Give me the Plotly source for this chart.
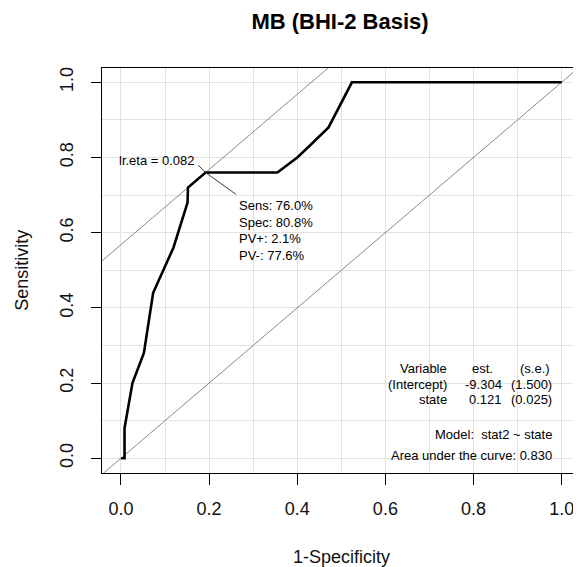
import plotly.graph_objects as go

# ---------------- data ----------------
title_text = "MB (BHI-2 Basis)"
x_label = "1-Specificity"
y_label = "Sensitivity"

roc_fpr = [0, 0.008, 0.008, 0.026, 0.052, 0.073, 0.119, 0.151, 0.152, 0.192,
           0.355, 0.400, 0.427, 0.471, 0.524, 1.0]
roc_tpr = [0, 0, 0.08, 0.20, 0.28, 0.44, 0.56, 0.68, 0.72, 0.76,
           0.76, 0.80, 0.83, 0.88, 1.0, 1.0]

lr_eta = 0.082
sens = 76.0
spec = 80.8
pv_pos = 2.1
pv_neg = 77.6

coef_header = ["Variable", "est.", "(s.e.)"]
coef_names = ["(Intercept)", "state"]
coef_est = [-9.304, 0.121]
coef_se = [1.500, 0.025]
model_formula = "stat2 ~ state"
auc = 0.830

tick_vals = [0.0, 0.2, 0.4, 0.6, 0.8, 1.0]
tick_text = ["0.0", "0.2", "0.4", "0.6", "0.8", "1.0"]

# ---------------- layout geometry ----------------
OFF = 8                      # page body margin
W, H = 581 - OFF, 567 - OFF
ML, MR, MT, MB = 102 - OFF, 3, 68 - OFF, 94
PW = W - ML - MR
PH = H - MT - MB
FONT = "Liberation Sans, Arial, sans-serif"


def px_x(px):
    return (px - OFF - ML) / PW


def px_y(py):
    return (MT + PH - (py - OFF)) / PH


opt_x = 1 - spec / 100
opt_y = sens / 100
tangent_icpt = opt_y - opt_x

fig = go.Figure()

line_x = [-0.2, 1.2]
fig.add_trace(go.Scatter(x=line_x, y=line_x, mode="lines",
                         line=dict(color="#7a7a7a", width=0.9),
                         hoverinfo="skip", showlegend=False))
fig.add_trace(go.Scatter(x=line_x, y=[v + tangent_icpt for v in line_x], mode="lines",
                         line=dict(color="#7a7a7a", width=0.9),
                         hoverinfo="skip", showlegend=False))
fig.add_trace(go.Scatter(x=roc_fpr, y=roc_tpr, mode="lines",
                         line=dict(color="black", width=2.6),
                         showlegend=False))

ann = []
# leader lines
ann.append(dict(x=opt_x, y=opt_y, xref="x", yref="y", text="", showarrow=True,
                arrowhead=0, arrowwidth=0.9, arrowcolor="#222", ax=-9, ay=-9))
ann.append(dict(x=opt_x, y=opt_y, xref="x", yref="y", text="", showarrow=True,
                arrowhead=0, arrowwidth=0.9, arrowcolor="#222", ax=32, ay=23))
ann.append(dict(x=opt_x, y=opt_y, xref="x", yref="y",
                text=f"lr.eta = {lr_eta:.3f}", showarrow=False,
                xanchor="right", yanchor="middle", xshift=-9, yshift=12,
                font=dict(family=FONT, size=13, color="black")))
info_lines = [f"Sens: {sens:.1f}%", f"Spec: {spec:.1f}%",
              f"PV+: {pv_pos:.1f}%", f"PV-: {pv_neg:.1f}%"]
for i, t in enumerate(info_lines):
    ann.append(dict(x=opt_x, y=opt_y, xref="x", yref="y", text=t, showarrow=False,
                    xanchor="left", yanchor="middle", xshift=31,
                    yshift=-33.4 - 16.4 * i,
                    font=dict(family=FONT, size=13, color="black")))

# coefficient table
col_right = [449, 503.5, 553.5]
head_right = [449, 495, 552]
row_y = [368.5, 384.3, 399.5]
for j, h in enumerate(coef_header):
    ann.append(dict(x=px_x(head_right[j]), y=px_y(row_y[0]), xref="paper", yref="paper",
                    text=h, showarrow=False, xanchor="right", yanchor="middle",
                    font=dict(family=FONT, size=13, color="black")))
for i, name in enumerate(coef_names):
    cells = [name, f"{coef_est[i]:.3f}", f"({coef_se[i]:.3f})"]
    for j, c in enumerate(cells):
        ann.append(dict(x=px_x(col_right[j]), y=px_y(row_y[i + 1]), xref="paper", yref="paper",
                        text=c, showarrow=False, xanchor="right", yanchor="middle",
                        font=dict(family=FONT, size=13, color="black")))
ann.append(dict(x=px_x(554), y=px_y(434), xref="paper", yref="paper",
                text=f"Model:  {model_formula}", showarrow=False,
                xanchor="right", yanchor="middle",
                font=dict(family=FONT, size=13, color="black")))
ann.append(dict(x=px_x(554), y=px_y(455), xref="paper", yref="paper",
                text=f"Area under the curve: {auc:.3f}", showarrow=False,
                xanchor="right", yanchor="middle",
                font=dict(family=FONT, size=13, color="black")))

# axis titles
ann.append(dict(x=px_x(341), y=px_y(556.5), xref="paper", yref="paper",
                text=x_label, showarrow=False, xanchor="center", yanchor="middle",
                font=dict(family=FONT, size=18, color="#111")))
ann.append(dict(x=px_x(21.7), y=px_y(270), xref="paper", yref="paper",
                text=y_label, showarrow=False, xanchor="center", yanchor="middle",
                textangle=-90, font=dict(family=FONT, size=18, color="#111")))

grid_col = "#e2e2e2"
axis_common = dict(
    tickmode="array", tickvals=tick_vals, ticktext=tick_text,
    showgrid=True, gridcolor=grid_col, gridwidth=1,
    minor=dict(dtick=0.1, tick0=0, showgrid=True, gridcolor=grid_col, gridwidth=1, ticks=""),
    zeroline=False, showline=True, mirror=True, linecolor="black", linewidth=1,
    ticks="outside", tickcolor="black", tickwidth=1,
    tickfont=dict(family=FONT, size=18, color="#111"),
)

fig.update_layout(
    width=W, height=H,
    margin=dict(l=ML, r=MR, t=MT, b=MB),
    paper_bgcolor="white", plot_bgcolor="white",
    title=dict(text=f"<b>{title_text}</b>", x=(340 - OFF) / W, y=1 - (21 - OFF) / H,
               xanchor="center", yanchor="middle", xref="container", yref="container",
               font=dict(family=FONT, size=22, color="black")),
    xaxis=dict(range=[-0.0431, 1.0371], ticklen=11, ticklabelstandoff=8, **axis_common),
    yaxis=dict(range=[-0.0393, 1.0380], ticklen=10, ticklabelstandoff=11,
               tickangle=-90, **axis_common),
    annotations=ann,
    showlegend=False,
)

fig.write_html("out.html")
